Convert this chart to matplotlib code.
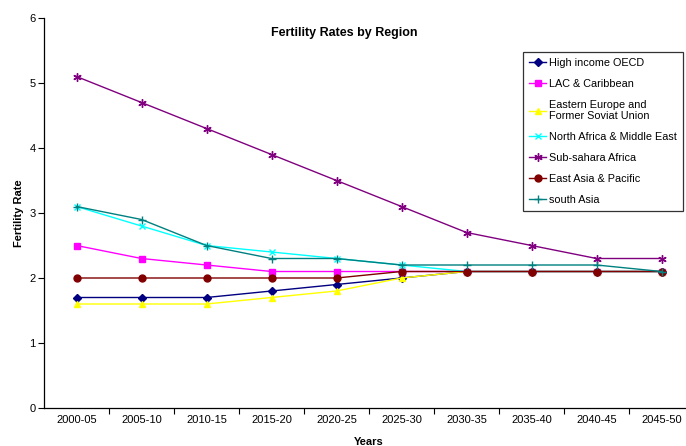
import matplotlib

matplotlib.use("Agg")

import matplotlib.pyplot as plt

periods = ["2000-05", "2005-10", "2010-15", "2015-20", "2020-25",
           "2025-30", "2030-35", "2035-40", "2040-45", "2045-50"]

high_income_oecd = [1.7, 1.7, 1.7, 1.8, 1.9, 2.0, 2.1, 2.1, 2.1, 2.1]
lac_caribbean = [2.5, 2.3, 2.2, 2.1, 2.1, 2.1, 2.1, 2.1, 2.1, 2.1]
eastern_europe = [1.6, 1.6, 1.6, 1.7, 1.8, 2.0, 2.1, 2.1, 2.1, 2.1]
north_africa = [3.1, 2.8, 2.5, 2.4, 2.3, 2.2, 2.1, 2.1, 2.1, 2.1]
sub_sahara = [5.1, 4.7, 4.3, 3.9, 3.5, 3.1, 2.7, 2.5, 2.3, 2.3]
east_asia = [2.0, 2.0, 2.0, 2.0, 2.0, 2.1, 2.1, 2.1, 2.1, 2.1]
south_asia = [3.1, 2.9, 2.5, 2.3, 2.3, 2.2, 2.2, 2.2, 2.2, 2.1]

series = [
    ("High income OECD", high_income_oecd, "#000080", "D", 4),
    ("LAC & Caribbean", lac_caribbean, "#FF00FF", "s", 5),
    ("Eastern Europe and\nFormer Soviat Union", eastern_europe, "#FFFF00", "^", 5),
    ("North Africa & Middle East", north_africa, "#00FFFF", "x", 5),
    ("Sub-sahara Africa", sub_sahara, "#800080", (6, 2, 0), 6),
    ("East Asia & Pacific", east_asia, "#800000", "o", 5),
    ("south Asia", south_asia, "#008080", "+", 6),
]

plt.rcParams["font.family"] = ["Liberation Sans", "DejaVu Sans"]

fig = plt.figure(figsize=(6.86, 4.46), dpi=100)
ax = fig.add_axes([44 / 686, 1 - 408 / 446, 650 / 686, 390 / 446])

x = list(range(len(periods)))
for label, values, color, marker, size in series:
    ax.plot(x, values, color=color, marker=marker, markersize=size,
            linewidth=1.0, markeredgewidth=1.0, label=label, clip_on=False)

ax.set_xlim(-0.5, len(periods) - 0.5)
ax.set_ylim(0, 6)
ax.set_yticks(range(7))
ax.set_xticks(x)
ax.set_xticklabels(periods)
ax.set_xticks([i + 0.5 for i in x], minor=True)
ax.tick_params(axis="x", which="major", length=0, pad=5, labelsize=8)
ax.tick_params(axis="x", which="minor", length=4, width=0.8, direction="out")
ax.tick_params(axis="y", length=4, width=0.8, direction="out", labelsize=8, pad=2)

for side in ("top", "right"):
    ax.spines[side].set_visible(False)
for side in ("left", "bottom"):
    ax.spines[side].set_linewidth(0.9)

ax.set_xlabel("Years", fontsize=8, fontweight="bold", labelpad=9)
ax.set_ylabel("Fertility Rate", fontsize=8, fontweight="bold", labelpad=4)

fig.text(344 / 686, 1 - 33 / 446, "Fertility Rates by Region",
         fontsize=9, fontweight="bold", ha="center", va="center")

leg = fig.legend(loc="upper left", bbox_to_anchor=(523 / 686, 1 - 52 / 446),
                 fontsize=7.8, frameon=True, fancybox=False, shadow=False,
                 handlelength=1.6, handletextpad=0.25, labelspacing=1.0,
                 borderpad=0.55, borderaxespad=0)
leg.get_frame().set_edgecolor("black")
leg.get_frame().set_linewidth(0.9)

fig.savefig("out.png", dpi=100)
plt.close(fig)
